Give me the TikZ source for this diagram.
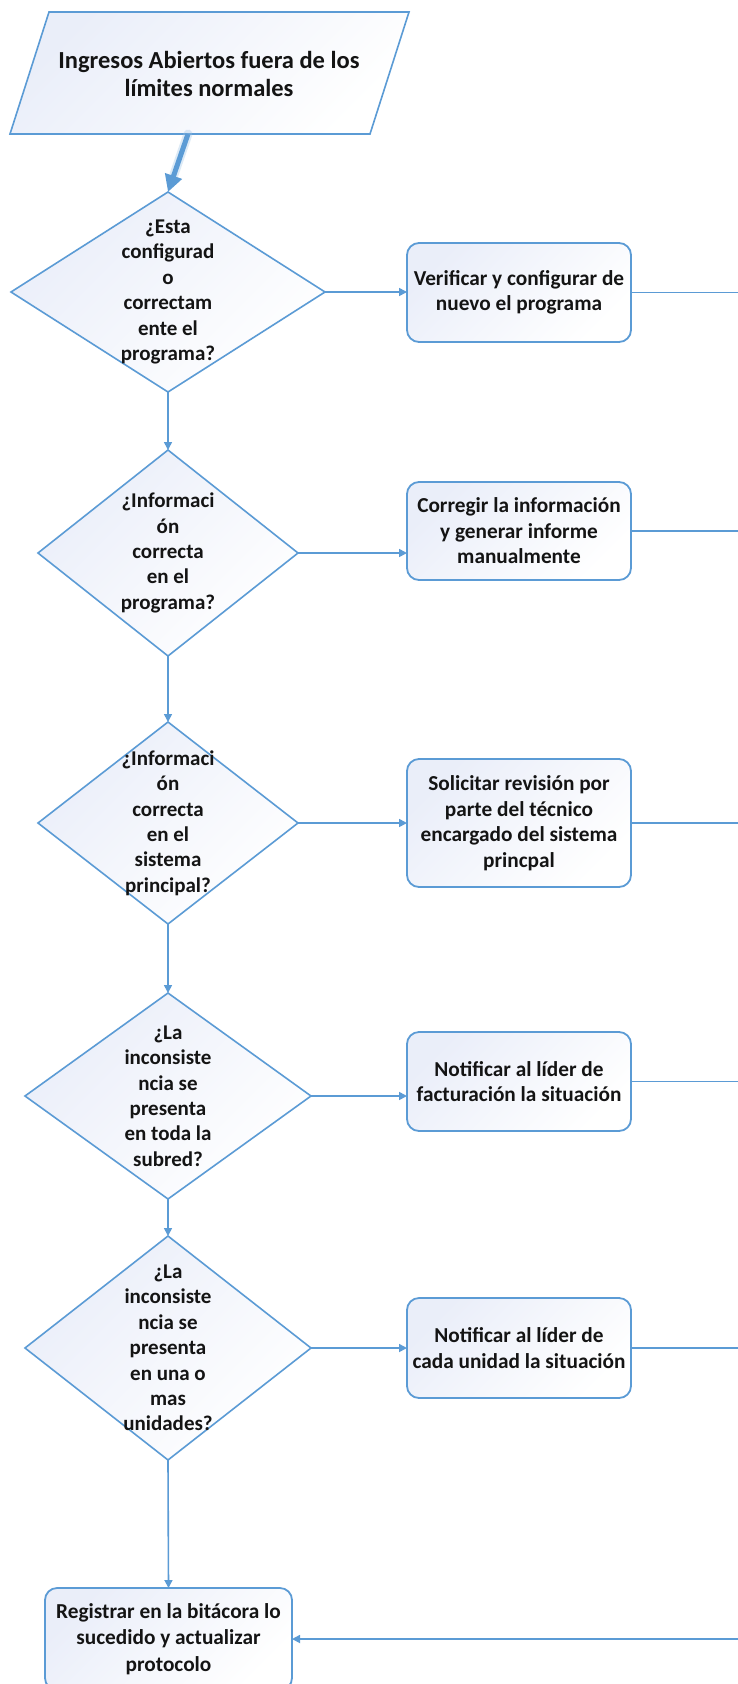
\documentclass[tikz,border=0pt]{standalone}
\usepackage{fontspec}
\setmainfont{Carlito}
\usetikzlibrary{arrows.meta,shapes.geometric,calc}

\definecolor{lineblue}{RGB}{91,155,213}
\definecolor{shadeblue}{RGB}{234,238,249}
\definecolor{inktext}{RGB}{20,20,20}

\tikzset{
  shapefill/.style={shade, top color=shadeblue, bottom color=white, shading angle=45},
  decision/.style={diamond, draw=lineblue, line width=1.6pt, shapefill, inner sep=0pt, outer sep=0pt},
  procbox/.style={rectangle, rounded corners=12pt, draw=lineblue, line width=1.8pt, shapefill,
                  minimum width=224pt, inner sep=0pt, outer sep=0pt},
  dtext/.style={text=inktext, align=center, font=\bfseries\fontsize{21}{25.4}\selectfont, inner sep=0pt},
  btext/.style={text=inktext, align=center, font=\bfseries\fontsize{21.3}{25.5}\selectfont, inner sep=0pt},
  conn/.style={draw=lineblue, line width=1.6pt, -{Triangle[length=8pt,width=8pt]}},
  plainconn/.style={draw=lineblue, line width=1.6pt},
}

\begin{document}
\begin{tikzpicture}[x=1pt, y=-1pt]
  \useasboundingbox (0,0) rectangle (738,1684);
  \fill[white] (0,0) rectangle (738,1684);

  % input parallelogram
  \path[draw=lineblue, line width=1.6pt, shapefill]
    (49,12) -- (409,12) -- (370,134) -- (10,134) -- cycle;
  \node[text=inktext, align=center, font=\bfseries\fontsize{24.5}{28}\selectfont, inner sep=0pt]
    (inp) at (209,74) {Ingresos Abiertos fuera de los\\límites normales};
  \coordinate (inpout) at (188,134);

  % decisions
  \node[decision, minimum width=314pt, minimum height=200pt] (d1) at (168,292) {};
  \node[dtext] at (d1.center) {¿Esta\\configurad\\o\\correctam\\ente el\\programa?};

  \node[decision, minimum width=260pt, minimum height=206pt] (d2) at (168,553) {};
  \node[dtext] at (d2.center) {¿Informaci\\ón\\correcta\\en el\\programa?};

  \node[decision, minimum width=260pt, minimum height=202pt] (d3) at (168,823) {};
  \node[dtext] at (d3.center) {¿Informaci\\ón\\correcta\\en el\\sistema\\principal?};

  \node[decision, minimum width=286pt, minimum height=206pt] (d4) at (168,1096) {};
  \node[dtext] at (d4.center) {¿La\\inconsiste\\ncia se\\presenta\\en toda la\\subred?};

  \node[decision, minimum width=286pt, minimum height=224pt] (d5) at (168,1348) {};
  \node[dtext] at (d5.center) {¿La\\inconsiste\\ncia se\\presenta\\en una o\\mas\\unidades?};

  % actions
  \node[procbox, minimum height=99pt] (b1) at (519,292.5) {};
  \node[btext] at (b1.center) {Verificar y configurar de\\nuevo el programa};

  \node[procbox, minimum height=98pt] (b2) at (519,531) {};
  \node[btext] at (b2.center) {Corregir la información\\y generar informe\\manualmente};

  \node[procbox, minimum height=128pt] (b3) at (519,823) {};
  \node[btext] at (b3.center) {Solicitar revisión por\\parte del técnico\\encargado del sistema\\princpal};

  \node[procbox, minimum height=99pt] (b4) at (519,1081.5) {};
  \node[btext] at (b4.center) {Notificar al líder de\\facturación la situación};

  \node[procbox, minimum height=100pt] (b5) at (519,1348) {};
  \node[btext] at (b5.center) {Notificar al líder de\\cada unidad la situación};

  % final step
  \node[procbox, minimum width=247pt, minimum height=102pt] (fin) at (168.5,1639) {};
  \node[btext, font=\bfseries\fontsize{21.3}{26.5}\selectfont] at (fin.center)
    {Registrar en la bitácora lo\\sucedido y actualizar\\protocolo};

  % thick entry arrow with soft halo
  \draw[lineblue!60, opacity=0.35, line width=9pt, line cap=round] (inpout) -- ($(inpout)!0.7!(d1.north)$);
  \draw[lineblue, line width=5pt, -{Triangle[length=17pt,width=17pt]}] (inpout) -- (d1.north);

  % main column
  \draw[conn] (d1.south) -- (d2.north);
  \draw[conn] (d2.south) -- (d3.north);
  \draw[conn] (d3.south) -- (d4.north);
  \draw[conn] (d4.south) -- (d5.north);
  \draw[conn] (d5.south) -- (fin.north);

  % decision to action
  \draw[conn] (d1.east) -- (d1.east -| b1.west);
  \draw[conn] (d2.east) -- (d2.east -| b2.west);
  \draw[conn] (d3.east) -- (d3.east -| b3.west);
  \draw[conn] (d4.east) -- (d4.east -| b4.west);
  \draw[conn] (d5.east) -- (d5.east -| b5.west);

  % return line along the right side
  \coordinate (r1) at (750,292.5);
  \coordinate (r2) at (750,531);
  \coordinate (r3) at (750,823);
  \coordinate (r4) at (750,1081.5);
  \coordinate (r5) at (750,1348);
  \coordinate (rb) at (750,1639);
  \draw[plainconn] (b1.east) -- (r1);
  \draw[plainconn] (b2.east) -- (r2);
  \draw[plainconn] (b3.east) -- (r3);
  \draw[plainconn] (b4.east) -- (r4);
  \draw[plainconn] (b5.east) -- (r5);
  \draw[plainconn] (r1) -- (rb);
  \draw[conn] (rb) -- (fin.east);
\end{tikzpicture}
\end{document}
